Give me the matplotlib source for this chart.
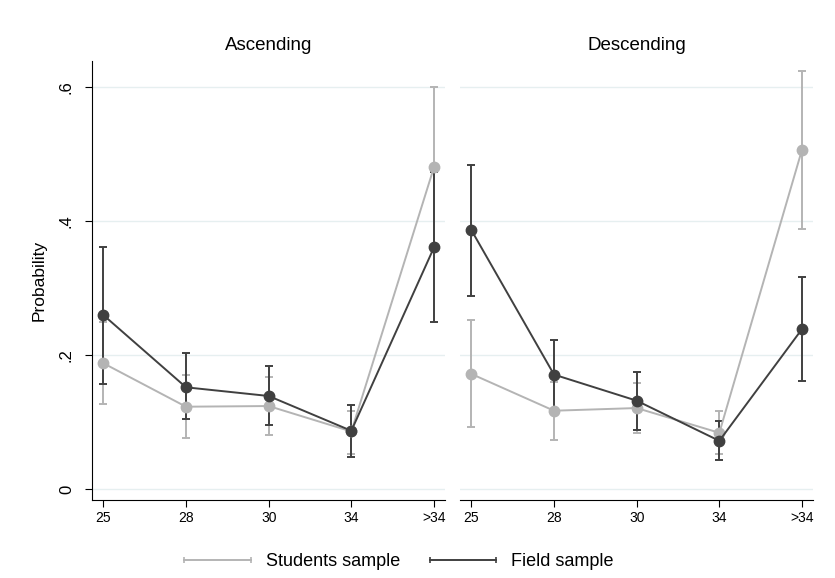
import numpy as np
import matplotlib.pyplot as plt
from matplotlib.lines import Line2D

plt.rcParams['font.family'] = ['Liberation Sans', 'DejaVu Sans']

# categories (treatment levels)
cats = ['25', '28', '30', '34', '>34']
panels = ['Ascending', 'Descending']

# Students sample: point estimate and CI bounds
stu_asc = [0.188, 0.123, 0.124, 0.086, 0.481]
stu_asc_lo = [0.127, 0.076, 0.080, 0.052, 0.362]
stu_asc_hi = [0.250, 0.170, 0.167, 0.117, 0.600]
stu_desc = [0.172, 0.117, 0.121, 0.084, 0.507]
stu_desc_lo = [0.093, 0.073, 0.083, 0.052, 0.389]
stu_desc_hi = [0.252, 0.160, 0.158, 0.116, 0.624]

# Field sample
fld_asc = [0.260, 0.152, 0.139, 0.087, 0.361]
fld_asc_lo = [0.157, 0.104, 0.096, 0.048, 0.249]
fld_asc_hi = [0.362, 0.203, 0.184, 0.126, 0.473]
fld_desc = [0.387, 0.171, 0.132, 0.072, 0.239]
fld_desc_lo = [0.288, 0.120, 0.088, 0.043, 0.162]
fld_desc_hi = [0.484, 0.223, 0.175, 0.101, 0.317]

yticks = [0, 0.2, 0.4, 0.6]
ytick_labels = ['0', '.2', '.4', '.6']

c_stu = '#b4b4b4'
c_fld = '#404040'
c_grid = '#e6eff0'

fig = plt.figure(figsize=(8.35, 5.78), dpi=100)
W, H = 835.0, 578.0
ax1 = fig.add_axes([92 / W, 1 - 500 / H, 353 / W, 439.3 / H])
ax2 = fig.add_axes([460 / W, 1 - 500 / H, 353 / W, 439.3 / H])

data = [
    (stu_asc, stu_asc_lo, stu_asc_hi, fld_asc, fld_asc_lo, fld_asc_hi),
    (stu_desc, stu_desc_lo, stu_desc_hi, fld_desc, fld_desc_lo, fld_desc_hi),
]

x = np.arange(len(cats))
for ax, title, d in zip([ax1, ax2], panels, data):
    for k, col in [(0, c_stu), (3, c_fld)]:
        y = np.array(d[k])
        lo = np.array(d[k + 1])
        hi = np.array(d[k + 2])
        ax.errorbar(x, y, yerr=[y - lo, hi - y], fmt='none', ecolor=col,
                    elinewidth=1.4, capsize=3, capthick=1.4, zorder=3)
        ax.plot(x, y, '-', color=col, lw=1.4, marker='o', ms=7.5,
                mec=col, mfc=col, zorder=4)
    ax.set_xlim(-0.137, 4.133)
    ax.set_ylim(-0.0164, 0.640)
    ax.set_xticks(x)
    ax.set_xticklabels(cats, fontsize=10)
    ax.set_yticks(yticks)
    for yv in yticks:
        ax.axhline(yv, color=c_grid, lw=1.0, zorder=0)
    ax.spines['top'].set_visible(False)
    ax.spines['right'].set_visible(False)
    ax.spines['bottom'].set_color('#000000')
    ax.spines['left'].set_color('#000000')
    ax.tick_params(axis='x', length=5, width=0.8, pad=3)
    ax.set_title(title, fontsize=13.5, pad=8)

ax1.set_yticklabels(ytick_labels, fontsize=12, rotation=90, va='center')
ax1.tick_params(axis='y', length=5, width=0.8, pad=8)
ax1.set_ylabel('Probability', fontsize=12.5, labelpad=9)

ax2.spines['left'].set_visible(False)
ax2.tick_params(axis='y', left=False, labelleft=False)

handles = [
    Line2D([0], [0], color=c_stu, lw=1.4, marker='|', ms=4.5, mew=1.2),
    Line2D([0], [0], color=c_fld, lw=1.4, marker='|', ms=4.5, mew=1.2),
]
fig.legend(handles, ['Students sample', 'Field sample'], loc='center',
           bbox_to_anchor=(0.4745, 1 - 562 / H), ncol=2, frameon=False,
           fontsize=13, numpoints=2, handlelength=4.3, handletextpad=0.5,
           columnspacing=1.35)

fig.savefig('out.png', dpi=100)
